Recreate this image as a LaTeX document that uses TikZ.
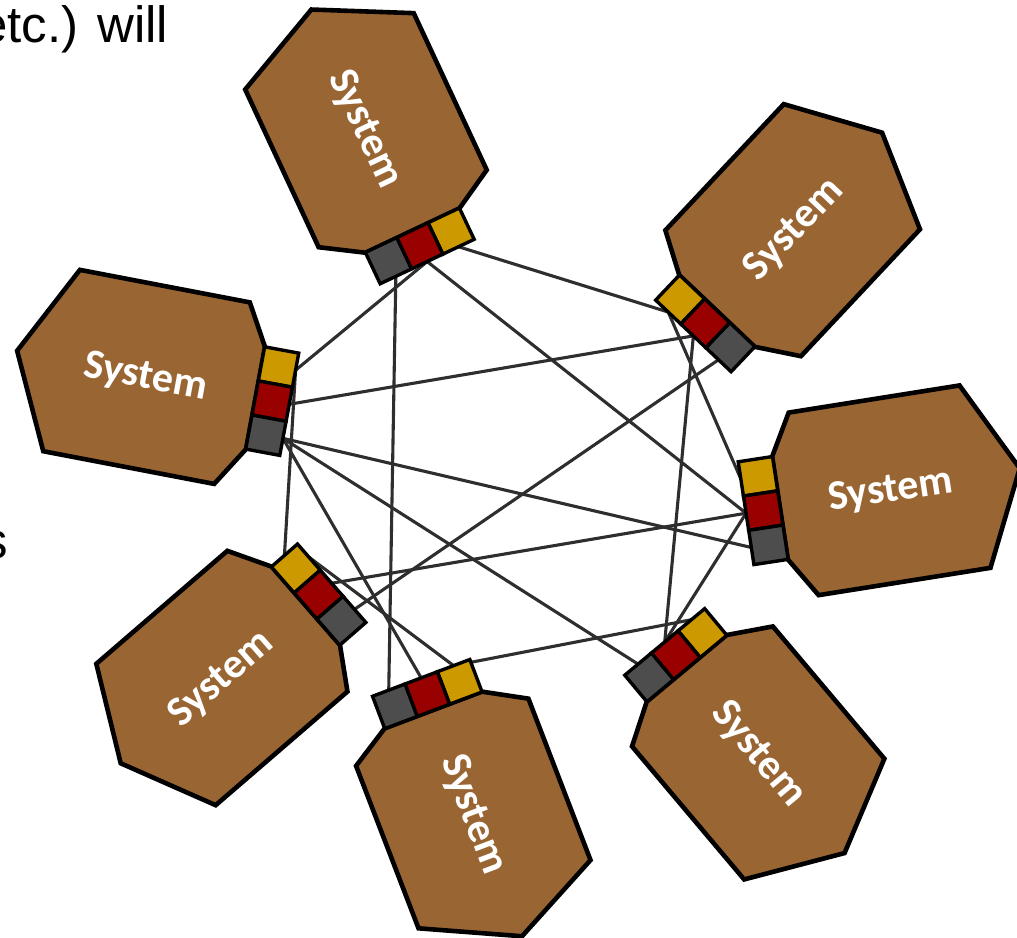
\documentclass[tikz,border=0pt]{standalone}
\usepackage{fontspec}
\newfontfamily\sysfont{Carlito}
\newfontfamily\arialfont{Liberation Sans}
\pgfdeclarelayer{bg}
\pgfsetlayers{bg,main}
\definecolor{brownc}{HTML}{996633}
\definecolor{yelc}{HTML}{CC9900}
\definecolor{redc}{HTML}{990000}
\definecolor{grayc}{HTML}{4D4D4D}
\definecolor{linkc}{HTML}{2E2E2E}
\tikzset{
  sys/.style={draw=black, line width=4.6pt, fill=brownc},
  port/.style={draw=black, line width=3.4pt, minimum size=34.67pt, inner sep=0pt, outer sep=0pt, transform shape},
  link/.style={draw=linkc, line width=3.1pt},
  systext/.style={text=white, font=\sysfont\bfseries\fontsize{42}{50}\selectfont, inner sep=0pt},
  prose/.style={font=\arialfont\fontsize{51}{60}\selectfont, inner sep=0pt}
}
% #1 name, #2 origin, #3 rotate, #4 yscale, #5 text rotate
\newcommand\systemunit[5]{%
\begin{scope}[shift={#2}, rotate=#3, yscale=#4]
  \draw[sys] (-243,-3) -- (-196,-94) -- (-23,-93) -- (0,-52) -- (0,52) -- (-25,92) -- (-199,91) -- cycle;
  \node[port, fill=yelc] (#1y) at (17,-34.67) {};
  \node[port, fill=redc] (#1r) at (17,0) {};
  \node[port, fill=grayc] (#1g) at (17,34.67) {};
  \node[systext, rotate=#5] (#1t) at (-112,0) {System};
\end{scope}}
\begin{document}
\begin{tikzpicture}[x=1pt, y=-1pt]
\useasboundingbox (0,0) rectangle (1017,937);
\clip (0,0) rectangle (1017,937);
\node[prose, anchor=base east] (txt1) at (168.5,42) {etc.) will};
\node[prose, anchor=base east] (txt2) at (8.5,558) {s};
\systemunit{T}{(412.5,230.5)}{-64.7}{1}{-64.7}
\systemunit{L}{(255.5,398)}{-10.5}{1}{-10.5}
\systemunit{BL}{(305.8,605.8)}{41.1}{1}{41.1}
\systemunit{R}{(780,508)}{-171.3}{-1}{8.7}
\systemunit{TR}{(717,311)}{-133.5}{-1}{46.5}
\systemunit{BR}{(686.7,668.3)}{129.8}{-1}{-50.2}
\systemunit{B}{(433.3,710)}{110.7}{-1}{-69.3}
\begin{pgfonlayer}{bg}
\draw[link] (Tg.east) -- (Bg.east);
\draw[link] (Ty.east) -- (TRy.east);
\draw[link] (Tr.east) -- (Ly.east);
\draw[link] (Tr.east) -- (Rr.east);
\draw[link] (Lr.east) -- (TRr.east);
\draw[link] (Lg.east) -- (Rg.east);
\draw[link] (Lg.east) -- (Br.east);
\draw[link] (Lg.east) -- (BRg.east);
\draw[link] (Ly.east) -- (BLy.north);
\draw[link] (TRg.east) -- (BLg.east);
\draw[link] (TRr.east) -- (BRr.east);
\draw[link] (TRy.east) -- (Ry.east);
\draw[link] (Rr.east) -- (BLr.east);
\draw[link] (Rr.east) -- (BRr.east);
\draw[link] (By.east) -- (BRy.east);
\draw[link] (By.east) -- (BLy.east);
\end{pgfonlayer}
\end{tikzpicture}
\end{document}
